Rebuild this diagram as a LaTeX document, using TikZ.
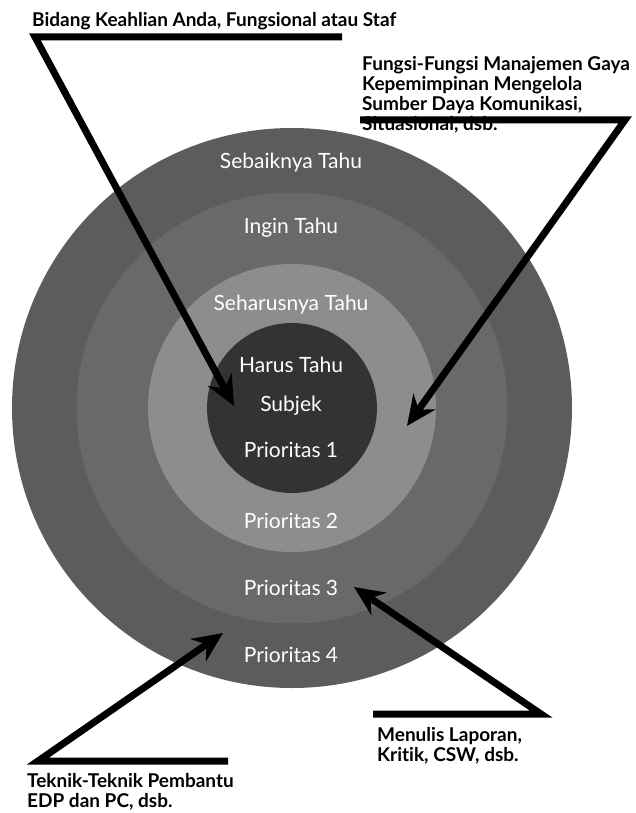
\documentclass[tikz,border=0pt]{standalone}
\usepackage{fontspec}
\setmainfont{Lato}[Ligatures=NoCommon]
\usetikzlibrary{arrows.meta}

\definecolor{ringfour}{HTML}{5C5C5C}
\definecolor{ringthree}{HTML}{696969}
\definecolor{ringtwo}{HTML}{8D8D8D}
\definecolor{ringone}{HTML}{333333}

\tikzset{
  pointer/.style={line width=7pt, line join=miter,
    -{Stealth[length=30pt,width=27pt,inset=10pt]}}
}

\begin{document}
\begin{tikzpicture}[x=1pt,y=-1pt]
      \useasboundingbox (0,0) rectangle (636,813);

      \begin{scope}[every node/.style={circle,inner sep=0pt}]
        \node[fill=ringfour,minimum size=560pt]  (c4) at (292,408) {};
        \node[fill=ringthree,minimum size=431pt] (c3) at (292,408) {};
        \node[fill=ringtwo,minimum size=288pt]   (c2) at (292,408) {};
        \node[fill=ringone,minimum size=170pt]   (c1) at (292,408) {};
      \end{scope}

      \begin{scope}[every node/.style={text=white,font=\fontsize{21}{25}\selectfont}]
        \node (sebaiknya)  at (291,163) {Sebaiknya Tahu};
        \node (ingin)      at (291,228) {Ingin Tahu};
        \node (seharusnya) at (291,305) {Seharusnya Tahu};
        \node (harus)      at (291,365) {Harus Tahu};
        \node (subjek)     at (291,406) {Subjek};
        \node (p1)         at (291,450) {Prioritas 1};
        \node (p2)         at (291,521) {Prioritas 2};
        \node (p3)         at (291,588) {Prioritas 3};
        \node (p4)         at (291,655) {Prioritas 4};
      \end{scope}

      \begin{scope}[every node/.style={inner sep=0pt,align=left,
          font=\bfseries\fontsize{19}{20}\selectfont}]
        \node[anchor=base west]  (bidang)  at (32,27)  {Bidang Keahlian Anda, Fungsional atau Staf};
        \node[anchor=north west] (fungsi)  at (362,56) {Fungsi-Fungsi Manajemen Gaya\\Kepemimpinan Mengelola\\Sumber Daya Komunikasi,\\Situasional, dsb.};
        \node[anchor=north west] (menulis) at (377,727) {Menulis Laporan,\\Kritik, CSW, dsb.};
        \node[anchor=north west] (teknik)  at (27,773)  {Teknik-Teknik Pembantu\\EDP dan PC, dsb.};
      \end{scope}

      \coordinate (bidangend)   at (342,37);
      \coordinate (bidangturn)  at (35,37);
      \coordinate (bidangtip)   at (234,406);
      \coordinate (fungsiend)   at (360,120);
      \coordinate (fungsiturn)  at (625,120);
      \coordinate (fungsitip)   at (407,426);
      \coordinate (menulisend)  at (373,714);
      \coordinate (menulisturn) at (541,714);
      \coordinate (menulistip)  at (354,587);
      \coordinate (teknikend)   at (228,761);
      \coordinate (tekniktturn) at (38,761);
      \coordinate (tekniktip)   at (223,633);

      \draw[pointer] (bidangend)  -- (bidangturn)  -- (bidangtip);
      \draw[pointer] (fungsiend)  -- (fungsiturn)  -- (fungsitip);
      \draw[pointer] (menulisend) -- (menulisturn) -- (menulistip);
      \draw[pointer] (teknikend)  -- (tekniktturn) -- (tekniktip);

\end{tikzpicture}
\end{document}
